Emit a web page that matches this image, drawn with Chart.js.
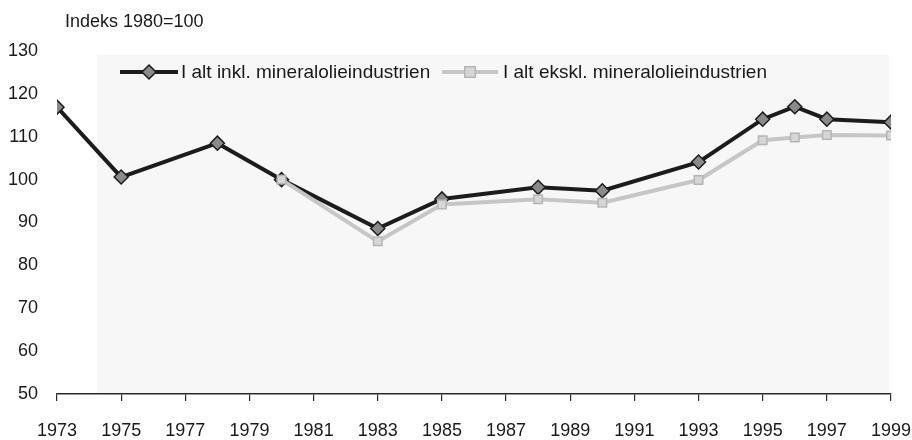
<!DOCTYPE html>
<html>
<head>
<meta charset="utf-8">
<script src="https://cdn.jsdelivr.net/npm/chart.js@4/dist/chart.umd.min.js"></script>
<style>
html,body{margin:0;padding:0;background:#fff;}
#wrap{width:912px;height:440px;position:relative;}
</style>
</head>
<body>
<div id="wrap"><canvas id="c" width="912" height="440"></canvas></div>
<script>
const yAxisTitle = "Indeks 1980=100";
const seriesNames = ["I alt inkl. mineralolieindustrien", "I alt ekskl. mineralolieindustrien"];
const yearsInkl = [1973, 1975, 1978, 1980, 1983, 1985, 1988, 1990, 1993, 1995, 1996, 1997, 1999];
const valuesInkl = [116.9, 100.6, 108.5, 100, 88.6, 95.5, 98.2, 97.4, 104.1, 114.1, 117.0, 114.1, 113.4];
const yearsEkskl = [1980, 1983, 1985, 1988, 1990, 1993, 1995, 1996, 1997, 1999];
const valuesEkskl = [100, 85.6, 94.2, 95.4, 94.6, 99.9, 109.2, 109.8, 110.4, 110.3];
const yTicks = [50, 60, 70, 80, 90, 100, 110, 120, 130];
const xTicks = [1973, 1975, 1977, 1979, 1981, 1983, 1985, 1987, 1989, 1991, 1993, 1995, 1997, 1999];

const FONT = "'Liberation Sans Narrow', 'Arial Narrow', 'Liberation Sans', sans-serif";

const dsInkl = yearsInkl.map((x, i) => ({x: x, y: valuesInkl[i]}));
const dsEkskl = yearsEkskl.map((x, i) => ({x: x, y: valuesEkskl[i]}));

const styleInkl = {color: '#1c1c1c', width: 4, marker: 'rectRot', fill: '#8a8a8a', radius: 7};
const styleEkskl = {color: '#c6c6c6', width: 4, marker: 'rect', fill: '#d6d6d6', radius: 7};

const decor = {
  id: 'decor',
  beforeDraw(chart) {
    const ctx = chart.ctx, a = chart.chartArea;
    ctx.save();
    ctx.fillStyle = '#f7f7f7';
    ctx.fillRect(a.left + 40, a.top + 4, a.right - a.left - 42, a.bottom - a.top - 5);
    ctx.restore();
  },
  afterDraw(chart) {
    const ctx = chart.ctx;
    ctx.save();
    ctx.fillStyle = '#1a1a1a';
    ctx.font = "18px " + FONT;
    ctx.textBaseline = 'middle';
    ctx.textAlign = 'left';
    ctx.fillText(yAxisTitle, 65, 22);
    const items = [
      {st: styleInkl, x0: 120, x1: 178, tx: 181, border: '#1c1c1c'},
      {st: styleEkskl, x0: 442, x1: 498, tx: 503, border: '#b5b5b5'}
    ];
    const ly = 72;
    items.forEach((it, i) => {
      ctx.strokeStyle = it.st.color;
      ctx.lineWidth = it.st.width;
      ctx.beginPath();
      ctx.moveTo(it.x0, ly);
      ctx.lineTo(it.x1, ly);
      ctx.stroke();
      ctx.fillStyle = it.st.fill;
      ctx.strokeStyle = it.border;
      ctx.lineWidth = 1.5;
      ctx.beginPath();
      const r = it.st.radius, cx = (it.x0 + it.x1) / 2;
      if (it.st.marker === 'rectRot') {
        ctx.moveTo(cx, ly - r); ctx.lineTo(cx + r, ly); ctx.lineTo(cx, ly + r); ctx.lineTo(cx - r, ly); ctx.closePath();
      } else {
        const h = r * 0.75;
        ctx.rect(cx - h, ly - h, 2 * h, 2 * h);
      }
      ctx.fill(); ctx.stroke();
      ctx.fillStyle = '#1a1a1a';
      ctx.font = "19px " + FONT;
      ctx.fillText(seriesNames[i], it.tx, ly + 1);
    });
    ctx.restore();
  }
};

new Chart(document.getElementById('c'), {
  type: 'line',
  data: {
    datasets: [
      {
        label: seriesNames[1], data: dsEkskl,
        borderColor: styleEkskl.color, borderWidth: styleEkskl.width,
        pointStyle: styleEkskl.marker, pointRadius: 6, pointBackgroundColor: styleEkskl.fill,
        pointBorderColor: '#b5b5b5', pointBorderWidth: 1.5, tension: 0
      },
      {
        label: seriesNames[0], data: dsInkl,
        borderColor: styleInkl.color, borderWidth: styleInkl.width,
        pointStyle: styleInkl.marker, pointRadius: styleInkl.radius, pointBackgroundColor: styleInkl.fill,
        pointBorderColor: '#1c1c1c', pointBorderWidth: 1.5, tension: 0
      }
    ]
  },
  options: {
    responsive: false,
    animation: false,
    events: [],
    layout: {autoPadding: false, padding: {top: 51, right: 21, left: 0, bottom: 0}},
    plugins: {legend: {display: false}, title: {display: false}, tooltip: {enabled: false}},
    scales: {
      x: {
        type: 'linear', min: 1973, max: 1999,
        afterBuildTicks(s) { s.ticks = xTicks.map(v => ({value: v})); },
        afterFit(s) { s.height = 46; s.paddingLeft = 0; s.paddingRight = 0; },
        border: {display: true, color: '#2a2a2a', width: 1.5},
        grid: {display: true, drawOnChartArea: false, drawTicks: true, tickLength: 7, color: '#2a2a2a', lineWidth: 1.2},
        ticks: {color: '#1a1a1a', font: {family: FONT, size: 18}, padding: 19, maxRotation: 0, autoSkip: false,
                callback: v => String(v)}
      },
      y: {
        min: 50, max: 130,
        afterBuildTicks(s) { s.ticks = yTicks.map(v => ({value: v})); },
        afterFit(s) { s.width = 57; s.paddingTop = 0; s.paddingBottom = 0; },
        border: {display: false},
        grid: {display: false, drawTicks: false},
        ticks: {color: '#1a1a1a', font: {family: FONT, size: 18}, padding: 19}
      }
    }
  },
  plugins: [decor]
});
</script>
</body>
</html>
